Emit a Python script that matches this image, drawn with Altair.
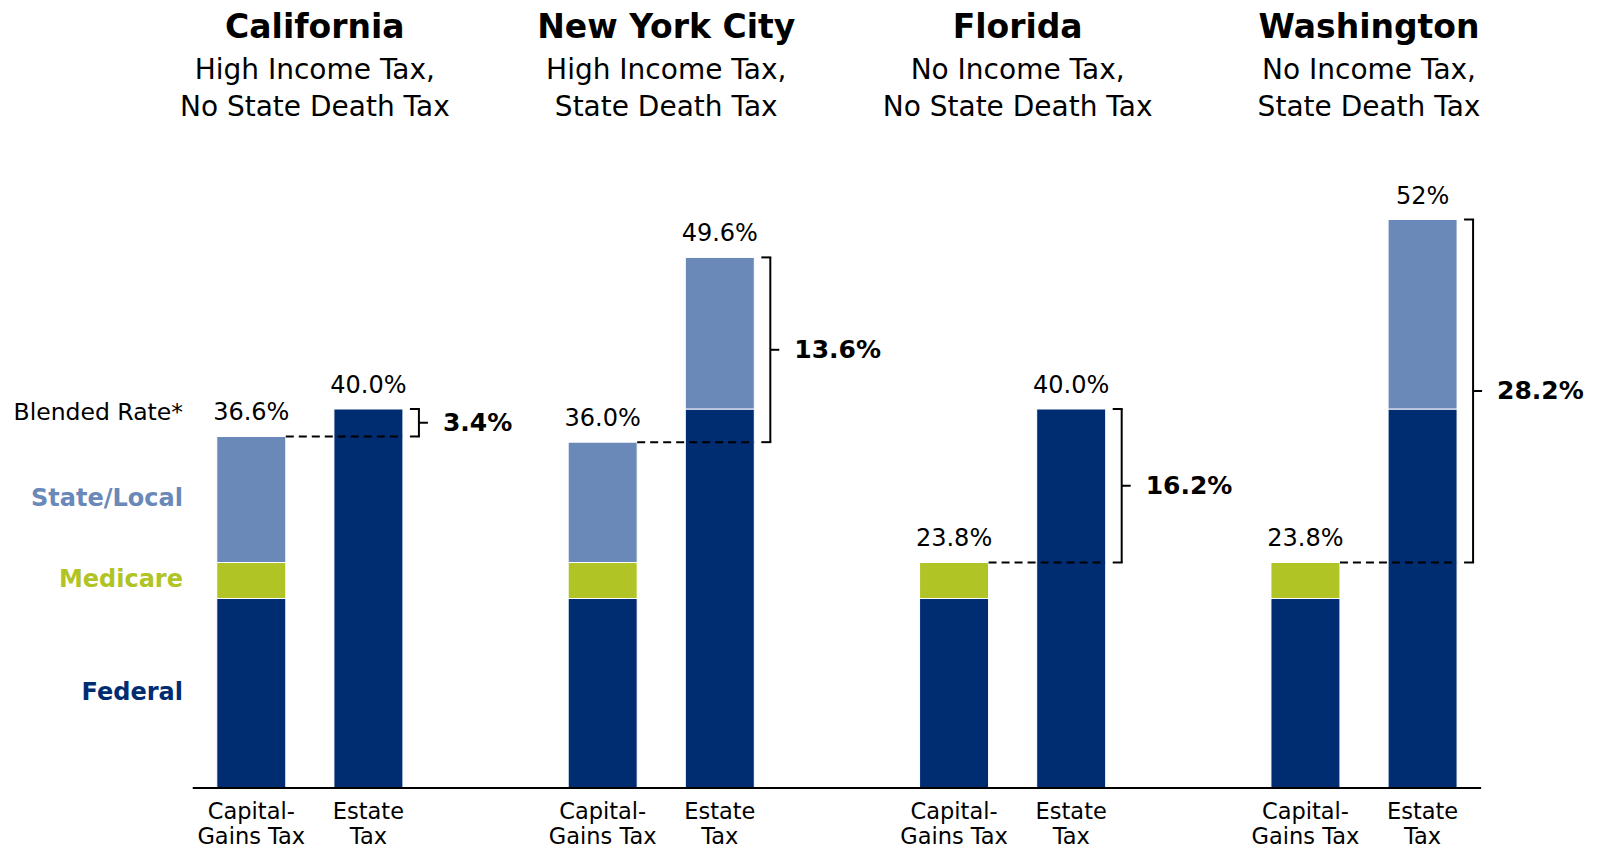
import altair as alt
import pandas as pd

# ---------------- data ----------------
groups = ["California", "New York City", "Florida", "Washington"]
subtitle1 = ["High Income Tax,", "High Income Tax,", "No Income Tax,", "No Income Tax,"]
subtitle2 = ["No State Death Tax", "State Death Tax", "No State Death Tax", "State Death Tax"]

components = ["Federal", "Medicare", "State/Local"]
colors = ["#002D72", "#B1C425", "#6A88B8"]

# capital-gains tax components (%)
cg_federal = [20.0, 20.0, 20.0, 20.0]
cg_medicare = [3.8, 3.8, 3.8, 3.8]
cg_state = [13.3, 12.7, 0.0, 0.0]
# estate tax components (%)
est_federal = [40.0, 40.0, 40.0, 40.0]
est_state = [0.0, 16.0, 0.0, 20.0]

cg_label = ["36.6%", "36.0%", "23.8%", "23.8%"]
est_label = ["40.0%", "49.6%", "40.0%", "52%"]
gap_label = ["3.4%", "13.6%", "16.2%", "28.2%"]

bar_names = [["Capital-", "Gains Tax"], ["Estate", "Tax"]]

# ---------------- layout constants ----------------
W, H = 1590, 780
STEP = 117.87          # px per slot
X0 = 247.8             # page x of first slot
PX_PER = 9.475         # px per percentage point
BAR_W = 69
FONT = "DejaVu Sans"

x_dom = [-(X0 - 8) / STEP, -(X0 - 8) / STEP + W / STEP]
y_dom = [0, H / PX_PER]
xs = alt.Scale(domain=x_dom, nice=False, zero=False)
ys = alt.Scale(domain=y_dom, nice=False, zero=True)

# ---------------- tables ----------------
rows = []
summary = []
labels = []
axis_rows = []
for i, g in enumerate(groups):
    cap_slot, est_slot = 3 * i, 3 * i + 1
    cvals = [cg_federal[i], cg_medicare[i], cg_state[i]]
    evals = [est_federal[i], 0.0, est_state[i]]
    for k, comp in enumerate(components):
        if cvals[k] > 0:
            rows.append(dict(slot=cap_slot, comp=comp, value=cvals[k], order=k))
        if evals[k] > 0:
            rows.append(dict(slot=est_slot, comp=comp, value=evals[k], order=k))
    cap_total = sum(cvals)
    est_total = sum(evals)
    summary.append(dict(
        cap_slot=cap_slot, est_slot=est_slot, center=cap_slot + 0.5,
        cap_total=cap_total, est_total=est_total, mid=(cap_total + est_total) / 2,
        gap=gap_label[i], title=g, sub1=subtitle1[i], sub2=subtitle2[i],
    ))
    labels.append(dict(slot=cap_slot, total=cap_total, label=cg_label[i]))
    labels.append(dict(slot=est_slot, total=est_total, label=est_label[i]))
    axis_rows.append(dict(slot=cap_slot, l1=bar_names[0][0], l2=bar_names[0][1]))
    axis_rows.append(dict(slot=est_slot, l1=bar_names[1][0], l2=bar_names[1][1]))

bars_df = pd.DataFrame(rows)
sum_df = pd.DataFrame(summary)
lab_df = pd.DataFrame(labels)
axis_df = pd.DataFrame(axis_rows)

# legend positions: midpoints of first capital-gains bar segments
c0 = [cg_federal[0], cg_medicare[0], cg_state[0]]
leg_rows = []
acc = 0.0
for k, comp in enumerate(components):
    leg_rows.append(dict(slot=0, comp=comp, y=acc + c0[k] / 2))
    acc += c0[k]
leg_df = pd.DataFrame(leg_rows)
blend_df = pd.DataFrame([dict(slot=0, y=acc, label="Blended Rate*")])
baseline_df = pd.DataFrame([dict(x1=-0.5, x2=3 * (len(groups) - 1) + 1.5, y=0)])

X = lambda f: alt.X(f, scale=xs, axis=None)
Y = lambda f: alt.Y(f, scale=ys, axis=None)
color_scale = alt.Scale(domain=components, range=colors)

bars = alt.Chart(bars_df).mark_bar(size=BAR_W, stroke="white", strokeWidth=1).encode(
    x=X("slot:Q"),
    y=alt.Y("value:Q", scale=ys, axis=None, stack="zero"),
    color=alt.Color("comp:N", scale=color_scale, legend=None),
    order=alt.Order("order:Q"),
)

baseline = alt.Chart(baseline_df).mark_rule(color="black", strokeWidth=2).encode(
    x=X("x1:Q"), x2="x2:Q", y=Y("y:Q")
)

dashed = alt.Chart(sum_df).mark_rule(
    color="black", strokeWidth=2, strokeDash=[8, 5],
    xOffset=BAR_W / 2, x2Offset=BAR_W / 2,
).encode(x=X("cap_slot:Q"), x2="est_slot:Q", y=Y("cap_total:Q"))

BR = BAR_W / 2 + 16
br_vert = alt.Chart(sum_df).mark_rule(color="black", strokeWidth=2, xOffset=BR).encode(
    x=X("est_slot:Q"), y=Y("cap_total:Q"), y2="est_total:Q"
)
br_top = alt.Chart(sum_df).mark_rule(color="black", strokeWidth=2, xOffset=BR - 9, x2Offset=BR + 1).encode(
    x=X("est_slot:Q"), x2="est_slot:Q", y=Y("est_total:Q")
)
br_bot = alt.Chart(sum_df).mark_rule(color="black", strokeWidth=2, xOffset=BR - 9, x2Offset=BR + 1).encode(
    x=X("est_slot:Q"), x2="est_slot:Q", y=Y("cap_total:Q")
)
br_mid = alt.Chart(sum_df).mark_rule(color="black", strokeWidth=2, xOffset=BR, x2Offset=BR + 9).encode(
    x=X("est_slot:Q"), x2="est_slot:Q", y=Y("mid:Q")
)
gap_text = alt.Chart(sum_df).mark_text(
    font=FONT, fontSize=25, fontWeight="bold", align="left", baseline="middle",
    dx=BR + 24, color="black",
).encode(x=X("est_slot:Q"), y=Y("mid:Q"), text="gap:N")

val_text = alt.Chart(lab_df).mark_text(
    font=FONT, fontSize=24, align="center", baseline="middle", dy=-23, color="black",
).encode(x=X("slot:Q"), y=Y("total:Q"), text="label:N")

title_text = alt.Chart(sum_df).mark_text(
    font=FONT, fontSize=33, fontWeight="bold", align="center", baseline="middle", dx=5, color="black",
).encode(x=X("center:Q"), y=alt.value(20), text="title:N")
sub1_text = alt.Chart(sum_df).mark_text(
    font=FONT, fontSize=28, align="center", baseline="middle", dx=5, color="black",
).encode(x=X("center:Q"), y=alt.value(63), text="sub1:N")
sub2_text = alt.Chart(sum_df).mark_text(
    font=FONT, fontSize=28, align="center", baseline="middle", dx=5, color="black",
).encode(x=X("center:Q"), y=alt.value(99.5), text="sub2:N")

ax1 = alt.Chart(axis_df).mark_text(
    font=FONT, fontSize=22.5, align="center", baseline="middle", color="black",
).encode(x=X("slot:Q"), y=alt.value(804), text="l1:N")
ax2 = alt.Chart(axis_df).mark_text(
    font=FONT, fontSize=22.5, align="center", baseline="middle", color="black",
).encode(x=X("slot:Q"), y=alt.value(829), text="l2:N")

LEG_DX = 179.5 - X0
leg_text = alt.Chart(leg_df).mark_text(
    font=FONT, fontSize=24, fontWeight="bold", align="right", baseline="middle", dx=LEG_DX,
).encode(
    x=X("slot:Q"), y=Y("y:Q"), text="comp:N",
    color=alt.Color("comp:N", scale=color_scale, legend=None),
)
blend_text = alt.Chart(blend_df).mark_text(
    font=FONT, fontSize=23.5, align="right", baseline="middle", dx=LEG_DX, dy=-23, color="black",
).encode(x=X("slot:Q"), y=Y("y:Q"), text="label:N")

chart = alt.layer(
    bars, baseline, dashed, br_vert, br_top, br_bot, br_mid, gap_text, val_text,
    title_text, sub1_text, sub2_text, ax1, ax2, leg_text, blend_text,
).properties(
    width=W, height=H,
    autosize=alt.AutoSizeParams(type="none"),
    padding={"left": 0, "top": 0, "right": 0, "bottom": 64},
).configure_view(stroke=None)

chart.save("out.html", embed_options={"renderer": "svg", "actions": False})
